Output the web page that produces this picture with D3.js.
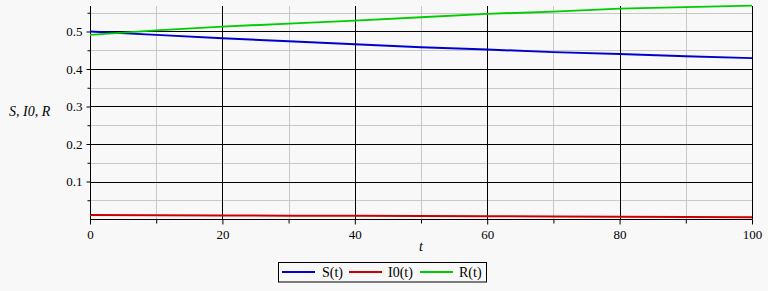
<!DOCTYPE html>
<html><head><meta charset="utf-8">
<script src="https://cdn.jsdelivr.net/npm/d3@7"></script>
<style>html,body{margin:0;padding:0;background:#f8f8f8;}svg{display:block;}</style>
</head><body>
<script>
const tValues = [0,10,20,30,40,50,60,70,80,90,100];
const sValues = [0.500,0.491,0.482,0.474,0.466,0.458,0.452,0.445,0.440,0.434,0.429];
const iValues = [0.0105,0.0100,0.0095,0.0090,0.0085,0.0080,0.0074,0.0068,0.0062,0.0054,0.0046];
const rValues = [0.491,0.503,0.513,0.521,0.529,0.538,0.547,0.553,0.561,0.565,0.569];
const xMajor = [0,20,40,60,80,100];
const xMinor = [10,30,50,70,90];
const yMajor = [0.1,0.2,0.3,0.4,0.5];
const yMinor = [0.05,0.15,0.25,0.35,0.45,0.55];
const seriesNames = ["S(t)","I0(t)","R(t)"];
const seriesColors = ["#0000cc","#cc0000","#00cc00"];

const W=768,H=291;
const svg=d3.select("body").append("svg").attr("width",W).attr("height",H);
svg.append("rect").attr("width",W).attr("height",H).attr("fill","#f8f8f8");
const x=d3.scaleLinear().domain([0,100]).range([90,752]);
const y=d3.scaleLinear().domain([0,0.568]).range([219,6]);
const font="'Liberation Serif','Times New Roman',serif";

const g=svg.append("g");
// minor grid
g.selectAll(".vminor").data(xMinor).join("line")
 .attr("x1",d=>Math.round(x(d))+0.5).attr("x2",d=>Math.round(x(d))+0.5)
 .attr("y1",y.range()[1]).attr("y2",219).attr("stroke","#c8c8c8");
g.selectAll(".hminor").data(yMinor).join("line")
 .attr("y1",d=>Math.round(y(d))+0.5).attr("y2",d=>Math.round(y(d))+0.5)
 .attr("x1",90).attr("x2",752).attr("stroke","#c8c8c8");
// major grid
g.selectAll(".vmajor").data(xMajor.filter(d=>d>0)).join("line")
 .attr("x1",d=>Math.round(x(d))+0.5).attr("x2",d=>Math.round(x(d))+0.5)
 .attr("y1",6).attr("y2",219).attr("stroke","#000");
g.selectAll(".hmajor").data(yMajor).join("line")
 .attr("y1",d=>Math.round(y(d))+0.5).attr("y2",d=>Math.round(y(d))+0.5)
 .attr("x1",90).attr("x2",752).attr("stroke","#000");

// axes
const xAxis=d3.axisBottom(x).tickValues(xMajor).tickSize(5).tickFormat(d3.format("d"));
const xAxisMinor=d3.axisBottom(x).tickValues(xMinor).tickSize(4).tickFormat("");
const yAxis=d3.axisLeft(y).tickValues(yMajor).tickSize(4).tickFormat(d3.format(".1f"));
const yAxisMinor=d3.axisLeft(y).tickValues(yMinor).tickSize(3).tickFormat("");
function styleAxis(sel){
  sel.select(".domain").remove();
  sel.selectAll("line").attr("stroke","#000");
  sel.selectAll("text").attr("fill","#000").style("font-family",font).style("font-size","13px");
}
svg.append("g").attr("transform","translate(0,219.5)").call(xAxis).call(styleAxis)
  .selectAll("text").attr("dy","0.9em");
svg.append("g").attr("transform","translate(0,219.5)").call(xAxisMinor).call(styleAxis);
svg.append("g").attr("transform","translate(90.5,0)").call(yAxis).call(styleAxis)
  .selectAll("text").attr("x",-8);
svg.append("g").attr("transform","translate(90.5,0)").call(yAxisMinor).call(styleAxis);
// axis lines
svg.append("line").attr("x1",90.5).attr("x2",90.5).attr("y1",6).attr("y2",219.5).attr("stroke","#000");
svg.append("line").attr("x1",90).attr("x2",752.5).attr("y1",219.5).attr("y2",219.5).attr("stroke","#000");

// data lines
const data=[sValues,iValues,rValues];
const line=d3.line().x((d,i)=>x(tValues[i])).y(d=>y(d));
data.forEach((vals,k)=>{
  svg.append("path").attr("d",line(vals)).attr("fill","none")
    .attr("stroke",seriesColors[k]).attr("stroke-width",2);
});

// axis labels
svg.append("text").attr("x",9).attr("y",116).text("S, I0, R")
  .style("font-family",font).style("font-style","italic").style("font-size","14px").attr("fill","#000");
svg.append("text").attr("x",x(50)).attr("y",251).attr("text-anchor","middle").text("t")
  .style("font-family",font).style("font-style","italic").style("font-size","14px").attr("fill","#000");

// legend
const lg=svg.append("g");
lg.append("rect").attr("x",278.5).attr("y",262.5).attr("width",208).attr("height",19.5)
  .attr("fill","#f8f8f8").attr("stroke","#000");
const legX=[282,349,420];
const legTX=[322,388,459];
seriesNames.forEach((n,k)=>{
  lg.append("line").attr("x1",legX[k]).attr("x2",legX[k]+33).attr("y1",272).attr("y2",272)
    .attr("stroke",seriesColors[k]).attr("stroke-width",2);
  lg.append("text").attr("x",legTX[k]).attr("y",277).text(n)
    .style("font-family",font).style("font-size","14px").attr("fill","#000");
});
</script>
</body></html>
